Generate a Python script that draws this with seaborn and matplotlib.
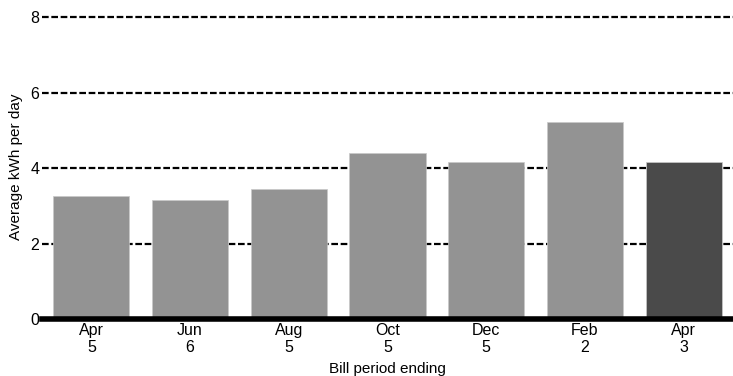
import numpy as np
import pandas as pd
import matplotlib
matplotlib.use("Agg")
import matplotlib.pyplot as plt
import seaborn as sns

# datos de consumo por periodo de factura
periodos = ["Apr\n5", "Jun\n6", "Aug\n5", "Oct\n5", "Dec\n5", "Feb\n2", "Apr\n3"]
kwh_dia = [3.25, 3.17, 3.46, 4.41, 4.17, 5.22, 4.17]
colores = ["#939393"] * 6 + ["#4a4a4a"]

df = pd.DataFrame({"periodo": periodos, "kwh": kwh_dia})

sns.set_style("white")
plt.rcParams["font.family"] = ["Liberation Sans", "DejaVu Sans"]
plt.rcParams["text.color"] = "black"
plt.rcParams["axes.labelcolor"] = "black"
plt.rcParams["xtick.color"] = "black"
plt.rcParams["ytick.color"] = "black"

fig = plt.figure(figsize=(7.33, 3.76), dpi=100)
ax = fig.add_axes([0.0573, 0.1516, 0.9427, 0.812])

sns.barplot(data=df, x="periodo", y="kwh", hue="periodo", palette=colores,
            legend=False, width=0.77, edgecolor="#c8c8c8", linewidth=0.5,
            saturation=1, ax=ax, zorder=3)

ax.set_ylim(0, 8.1)
ax.set_xlim(-0.5, 6.5)
ax.set_yticks([0, 2, 4, 6, 8])
ax.yaxis.grid(True, color="black", linestyle=(0, (3, 1.2)), linewidth=1.6, zorder=0)
ax.set_axisbelow(True)

for s in ["top", "right", "left"]:
    ax.spines[s].set_visible(False)
ax.spines["bottom"].set_linewidth(4)
ax.spines["bottom"].set_color("black")
ax.spines["bottom"].set_zorder(5)

ax.tick_params(axis="y", length=0, pad=2, labelsize=11.5)
ax.tick_params(axis="x", length=0, pad=3, labelsize=11.5)
for t in ax.get_xticklabels():
    t.set_linespacing(1.15)

ax.set_xlabel("Bill period ending", fontsize=11, labelpad=5)
ax.set_ylabel("Average kWh per day", fontsize=11, labelpad=5)

fig.savefig("out.png", dpi=100)
